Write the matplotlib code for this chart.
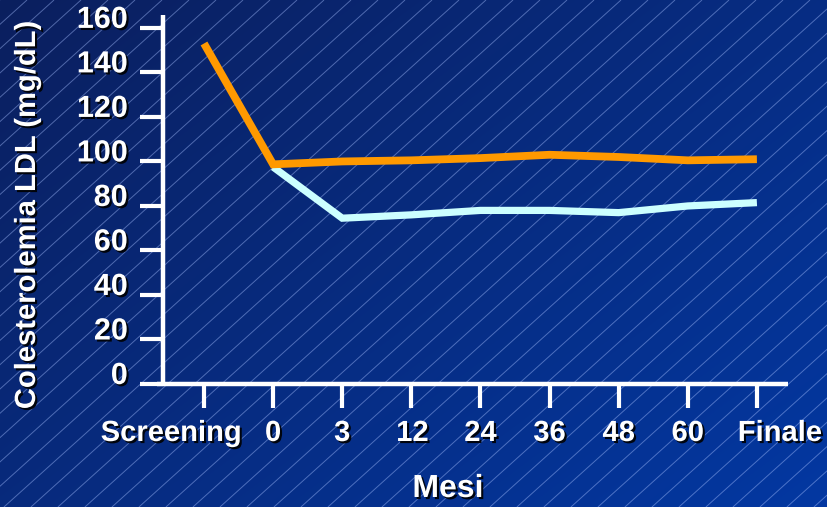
import numpy as np
import matplotlib
matplotlib.use("Agg")
import matplotlib.pyplot as plt
import matplotlib.patheffects as pe

# --- data -------------------------------------------------------------
visits = ["Screening", "0", "3", "12", "24", "36", "48", "60", "Finale"]
ldl_orange = [153, 98.7, 100, 100.5, 101.5, 103, 102, 100.5, 101]
ldl_cyan = [np.nan, 97.5, 74.5, 76, 78, 78, 77, 80, 81.5]
y_ticks = [0, 20, 40, 60, 80, 100, 120, 140, 160]
y_label = "Colesterolemia LDL (mg/dL)"
x_label = "Mesi"

# per-label horizontal nudges (pixels) for the visit names
x_label_shift = [-33, 0, 0, 1, 0, 0, 0, 0, 23]

W, H = 827, 507
plt.rcParams["font.family"] = ["Liberation Sans", "DejaVu Sans"]
plt.rcParams["font.weight"] = "bold"

fig = plt.figure(figsize=(W / 100, H / 100), dpi=100)

# --- background: diagonal gradient with thin diagonal stripes ---------
bg = fig.add_axes([0, 0, 1, 1], zorder=-10)
bg.set_axis_off()
yy, xx = np.mgrid[0:H, 0:W]
t = (xx / W * 0.55 + yy / H * 0.45)
c0 = np.array([0x0b, 0x1f, 0x5e]) / 255
c1 = np.array([0x03, 0x38, 0xa2]) / 255
img = c0[None, None, :] * (1 - t[..., None]) + c1[None, None, :] * t[..., None]
bg.imshow(img, extent=(0, W, H, 0), aspect="auto", interpolation="bilinear")
k = np.tan(np.radians(42))
for x0 in np.arange(-H / k, W + 30, 27):
    bg.plot([x0, x0 + H / k], [H, 0], color=(0.65, 0.75, 1.0), lw=0.7,
            alpha=0.45, solid_capstyle="butt")
bg.set_xlim(0, W)
bg.set_ylim(H, 0)

# --- main chart -------------------------------------------------------
ax = fig.add_axes([157 / W, (H - 384) / H, 631 / W, 369 / H])
ax.patch.set_alpha(0)
x = np.arange(len(visits))
ax.plot(x, ldl_cyan, color="#ccffff", lw=5.2, solid_joinstyle="miter",
        solid_capstyle="butt", zorder=3)
ax.plot(x, ldl_orange, color="#ff9900", lw=5.6, solid_joinstyle="miter",
        solid_capstyle="butt", zorder=4)

ax.set_xlim(-0.68, 8.45)
ax.set_ylim(0, 165.8)
for s in ["top", "right"]:
    ax.spines[s].set_visible(False)
ax.spines["left"].set_position(("data", -0.59))
for s in ["left", "bottom"]:
    ax.spines[s].set_color("white")
    ax.spines[s].set_linewidth(3.2)
    ax.spines[s].set_capstyle("butt")

shadow = [pe.SimplePatchShadow(offset=(1.5, -1.5), shadow_rgbFace="black",
                               alpha=0.9), pe.Normal()]

ax.set_yticks(y_ticks)
ax.set_yticklabels([str(v) for v in y_ticks])
ax.tick_params(axis="y", direction="out", length=16.5, width=3, color="white",
               labelcolor="white", labelsize=22, pad=9)
for lbl in ax.get_yticklabels():
    lbl.set_fontweight("bold")
    lbl.set_va("baseline")
    lbl.set_path_effects(shadow)

ax.set_xticks(x)
ax.set_xticklabels([])
ax.tick_params(axis="x", direction="out", length=17, width=3, color="white")
for i, name in enumerate(visits):
    ax.annotate(name, xy=(i, 0), xycoords=("data", "axes fraction"),
                xytext=(x_label_shift[i] * 0.72, -57 * 0.72),
                textcoords="offset points", ha="center", va="baseline",
                fontsize=21, fontweight="bold", color="white",
                path_effects=shadow, annotation_clip=False)

fig.text(27 / W, 1 - 215 / H, y_label, rotation=90, ha="center", va="center",
         fontsize=21, fontweight="bold", color="white", path_effects=shadow)
fig.text(448 / W, 1 - 489 / H, x_label, ha="center", va="center",
         fontsize=23, fontweight="bold", color="white", path_effects=shadow)

fig.savefig("out.png", dpi=100)
